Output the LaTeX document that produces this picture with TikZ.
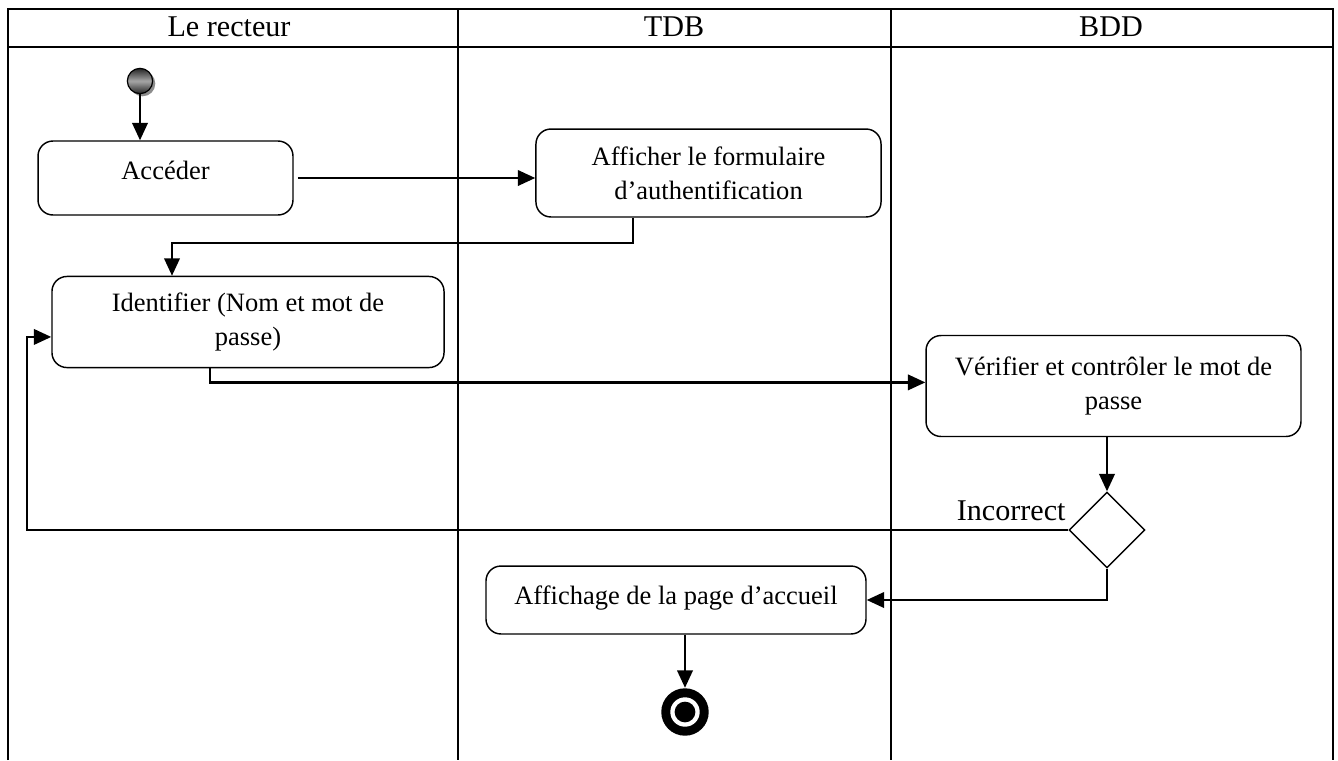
\documentclass[tikz,border=0pt]{standalone}
\usepackage{fontspec}
\setmainfont{Liberation Serif}
\usetikzlibrary{arrows.meta,shapes.geometric,shadows}

\tikzset{
  lane/.style={line width=1pt},
  actbox/.style={draw, line width=0.6pt, rounded corners=6.2pt, align=center,
    inner sep=2pt, font=\fontsize{11}{14.1}\selectfont},
  flow/.style={line width=0.95pt, -{Triangle[length=7.2pt,width=6.4pt]}},
  hdr/.style={font=\fontsize{12.5}{14}\selectfont, inner sep=0pt},
  decision/.style={draw, diamond, aspect=1, line width=0.6pt, inner sep=0pt,
    minimum width=31.5pt, minimum height=31.5pt},
}

\begin{document}
\begin{tikzpicture}[x=0.415pt,y=-0.415pt]
  \useasboundingbox (0,0) rectangle (1338,760);

  % swimlane frame
  \draw[lane] (8,760) -- (8,9) -- (1333,9) -- (1333,760);
  \draw[lane] (8,47) -- (1333,47);
  \draw[lane] (458,9) -- (458,760);
  \draw[lane] (891,9) -- (891,760);
  \node[hdr] (h1) at (229,27) {Le recteur};
  \node[hdr] (h2) at (674,27) {TDB};
  \node[hdr] (h3) at (1111,27) {BDD};

  % start and end states
  \node[circle, inner sep=0pt, minimum size=10.5pt, draw=black, line width=0.5pt,
        top color=black!85, bottom color=black!85, middle color=black!35,
        drop shadow={shadow xshift=1.1pt, shadow yshift=-1.1pt, fill=black!45, opacity=1}]
        (start) at (140,81) {};
  \node[circle, inner sep=0pt, minimum size=19.7pt, fill=black] (end) at (685,712) {};
  \fill[white] (end.center) circle (6.1pt);
  \fill[black] (end.center) circle (4.3pt);

  % activities
  \node[actbox, minimum width=105.8pt, minimum height=30.7pt, text depth=6pt] (acc) at (165.5,178) {Accéder};
  \node[actbox, minimum width=143.2pt, minimum height=36.5pt] (form) at (708.5,173)
    {Afficher le formulaire\\d’authentification};
  \node[actbox, minimum width=162.7pt, minimum height=37.8pt] (ident) at (248,322)
    {Identifier (Nom et mot de\\passe)};
  \node[actbox, minimum width=155.6pt, minimum height=41.9pt] (verif) at (1113.5,386)
    {Vérifier et contrôler le mot de\\passe};
  \node[decision] (dec) at (1107,530) {};
  \node[actbox, minimum width=157.7pt, minimum height=28.2pt, text depth=4pt] (home) at (676,600)
    {Affichage de la page d’accueil};
  \node[font=\fontsize{12.5}{15}\selectfont, inner sep=0pt, anchor=east] (inc) at (1066,511) {Incorrect};

  % control flow
  \draw[flow] (start.south) -- (start.south |- acc.north);
  \draw[flow] ([xshift=1.7pt]acc.east) -- (form.west |- acc.east);
  \draw[flow] (form.south -| 633,0) -- (633,243) -- (172,243) -- (ident.north -| 172,0);
  \draw[flow] (ident.south -| 210,0) |- ([yshift=1.5pt]verif.west);
  \draw[flow] (verif.south -| dec.north) -- (dec.north);
  \draw[flow] (dec.west) -- (dec.west -| 27,0) |- ([yshift=-6.2pt]ident.west);
  \draw[flow] (dec.south) |- (home.east);
  \draw[flow] (home.south -| end.north) -- (end.north);
\end{tikzpicture}
\end{document}
